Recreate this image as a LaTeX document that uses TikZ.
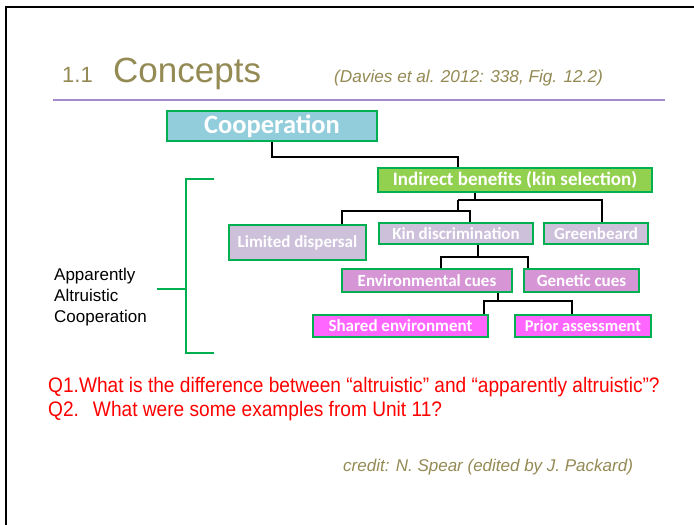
\documentclass[tikz,border=0pt]{standalone}
\usepackage{fontspec}
\setmainfont{Liberation Sans}
\newfontfamily\boxfont{Carlito}
\newfontfamily\qfont[FakeStretch=0.91]{Liberation Sans}
\usetikzlibrary{calc}
\definecolor{olivetxt}{HTML}{948A54}
\definecolor{rulepurple}{HTML}{A58BCB}
\definecolor{boxgreen}{HTML}{00B050}
\definecolor{coopfill}{HTML}{92CDDC}
\definecolor{indfill}{HTML}{92D050}
\definecolor{lavfill}{HTML}{CCC0DA}
\definecolor{orchidfill}{HTML}{D696D6}
\definecolor{pinkfill}{HTML}{FF66FF}
\definecolor{qred}{HTML}{FF0000}
\newcommand{\fs}[1]{\fontsize{#1}{#1}\selectfont}
\begin{document}
\begin{tikzpicture}[x=1pt,y=-1pt,
  cbox/.style={draw=boxgreen, line width=1.6pt, inner sep=0pt, text=white,
    font=\boxfont\bfseries\fs{17}, anchor=center},
  conn/.style={black, line width=2pt},
  brk/.style={boxgreen, line width=2.4pt}]
\useasboundingbox (0,0) rectangle (694,525);
\fill[white] (0,0) rectangle (694,525);
\draw[line width=2.2pt] (6,526) -- (6,7) -- (695,7);
% title
\node[anchor=base west, inner sep=0, text=olivetxt, font=\fs{22}] (num) at (62,82) {1.1};
\node[anchor=base west, inner sep=0, text=olivetxt, font=\fs{35}] (ttl) at (113,82) {Concepts};
\node[anchor=base west, inner sep=0, text=olivetxt, font=\itshape\fs{17.2}] (ref) at (334,82) {(Davies et al. 2012: 338, Fig. 12.2)};
\draw[rulepurple, line width=1.6pt] (53,100) -- (665,100);
% boxes
\node[cbox, fill=coopfill, minimum width=210pt, minimum height=30pt, font=\boxfont\bfseries\fs{26.5}] (coop) at (272,126) {Cooperation};
\node[cbox, fill=indfill, minimum width=274pt, minimum height=24pt, font=\boxfont\bfseries\fs{19}] (ind) at (515,180) {Indirect benefits (kin selection)};
\node[cbox, fill=lavfill, minimum width=137pt, minimum height=35pt] (lim) at (297.5,242.5) {Limited dispersal};
\node[cbox, fill=lavfill, minimum width=154pt, minimum height=21pt] (kin) at (456,233.5) {Kin discrimination};
\node[cbox, fill=lavfill, minimum width=104pt, minimum height=21pt] (gb) at (596,233.5) {Greenbeard};
\node[cbox, fill=orchidfill, minimum width=170pt, minimum height=23pt] (env) at (427,280.5) {Environmental cues};
\node[cbox, fill=orchidfill, minimum width=115pt, minimum height=23pt] (gen) at (581.5,280.5) {Genetic cues};
\node[cbox, fill=pinkfill, minimum width=175pt, minimum height=22pt] (sh) at (400.5,326) {Shared environment};
\node[cbox, fill=pinkfill, minimum width=136pt, minimum height=22pt, font=\boxfont\bfseries\fs{16.5}] (pr) at (583,326) {Prior assessment};
% junctions
\coordinate (j1) at (458,157);
\coordinate (j2) at (475,200);
\coordinate (j3) at (458,200);
\coordinate (j4) at (602,200);
\coordinate (j5) at (458,211);
\coordinate (j6) at (342,211);
\coordinate (j7) at (470,211);
\coordinate (j8) at (478,257);
\coordinate (j9) at (441,257);
\coordinate (j10) at (528,257);
\coordinate (j11) at (498,301);
\coordinate (j12) at (484,301);
\coordinate (j13) at (572,301);
% connectors
\draw[conn] (coop.south) |- (j1) -- (j1 |- ind.north);
\draw[conn] (j2 |- ind.south) -- (j2);
\draw[conn] (j3) -- (j4) -- (j4 |- gb.north);
\draw[conn] (j3) -- (j5);
\draw[conn] (j6 |- lim.north) -- (j6) -- (j7) -- (j7 |- kin.north);
\draw[conn] (j8 |- kin.south) -- (j8);
\draw[conn] (j9 |- env.north) -- (j9) -- (j10) -- (j10 |- gen.north);
\draw[conn] (j11 |- env.south) -- (j11);
\draw[conn] (j12 |- sh.north) -- (j12) -- (j13) -- (j13 |- pr.north);
% bracket
\coordinate (b1) at (214,179);
\coordinate (b2) at (186,179);
\coordinate (b3) at (186,353);
\coordinate (b4) at (214,353);
\coordinate (bm) at (186,289);
\coordinate (bt) at (157,289);
\draw[brk] (b1) -- (b2) -- (b3) -- (b4);
\draw[brk] (bt) -- (bm);
\node[anchor=north west, inner sep=0, align=left, font=\fontsize{17}{20.8}\selectfont] (app) at (54,268) {Apparently\\Altruistic\\Cooperation};
% questions
\node[anchor=base west, inner sep=0, text=qred, font=\qfont\fs{21}] (q1) at (48,392) {Q1.What is the difference between “altruistic” and “apparently altruistic”?};
\node[anchor=base west, inner sep=0, text=qred, font=\qfont\fs{21}] (q2) at (48,416) {Q2.\hspace{14pt}What were some examples from Unit 11?};
\node[anchor=base west, inner sep=0, text=olivetxt, font=\itshape\fs{17}] (cred) at (343,471) {credit: N. Spear (edited by J. Packard)};
\end{tikzpicture}
\end{document}
